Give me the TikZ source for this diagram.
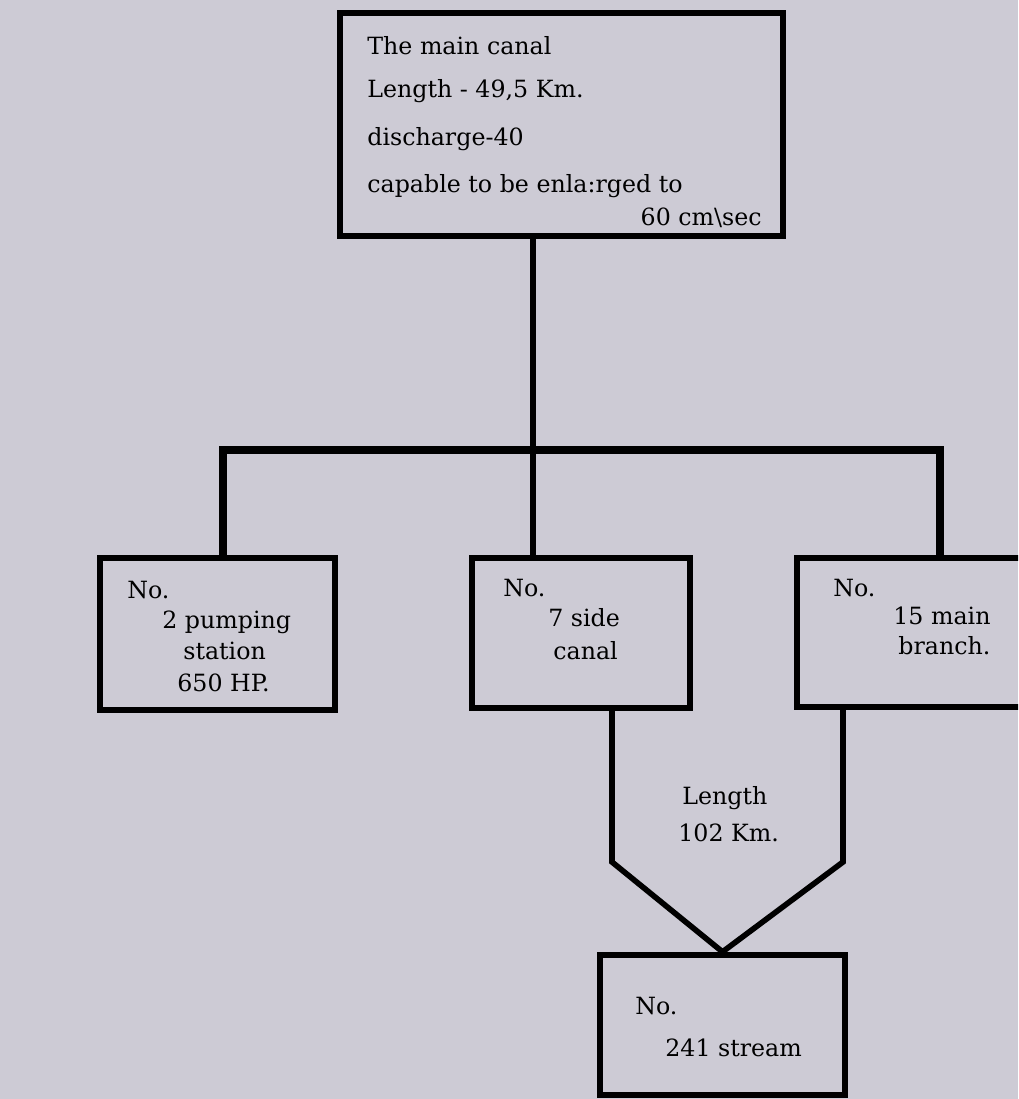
\documentclass[tikz,border=0pt]{standalone}
\usepackage{fontspec}
\setmainfont{DejaVu Serif}
\usepackage{tikz}
\definecolor{paper}{RGB}{205,203,213}

\begin{document}
\begin{tikzpicture}[x=0.02cm, y=-0.02cm,
    box/.style={draw, line width=3.6pt, rectangle, inner sep=0pt},
    link/.style={line width=3.2pt, line join=miter},
    txt/.style={anchor=base west, inner sep=0pt, font=\fontsize{13.5}{16}\selectfont}]
    \clip (0,0) rectangle (1018,1099);
    \fill[paper] (0,0) rectangle (1018,1099);
    \node[box, minimum width=8.86cm, minimum height=4.46cm] (main) at (561.5,124.5) {};
    \node[box, minimum width=4.7cm, minimum height=3.04cm] (pump) at (217.5,634) {};
    \node[box, minimum width=4.36cm, minimum height=3cm] (side) at (581,633) {};
    \node[box, minimum width=4.66cm, minimum height=2.98cm] (branch) at (913.5,632.5) {};
    \node[box, minimum width=4.9cm, minimum height=2.8cm] (stream) at (722.5,1025) {};
    \node[txt] (m1) at (367,54) {The main canal};
    \node[txt] (m2) at (367,97) {Length - 49,5 Km.};
    \node[txt] (m3) at (367,145) {discharge-40};
    \node[txt] (m4) at (367,192) {capable to be enla:rged to};
    \node[txt, anchor=base east] (m5) at (762,225) {60 cm\textbackslash sec};
    \node[txt] (p1) at (127,598) {No.};
    \node[txt] (p2) at (162,628) {2 pumping};
    \node[txt] (p3) at (183,659) {station};
    \node[txt] (p4) at (177,691) {650 HP.};
    \node[txt] (s1) at (503,596) {No.};
    \node[txt] (s2) at (548,626) {7 side};
    \node[txt] (s3) at (553,659) {canal};
    \node[txt] (b1) at (833,596) {No.};
    \node[txt] (b2) at (893,624) {15 main};
    \node[txt] (b3) at (898,654) {branch.};
    \node[txt] (l1) at (682,804) {Length};
    \node[txt] (l2) at (678,841) {102 Km.};
    \node[txt] (r1) at (635,1014) {No.};
    \node[txt] (r2) at (665,1056) {241 stream};
    \coordinate (trunk) at (533,450);
    \coordinate (busL) at (223,450);
    \coordinate (busR) at (940,450);
    \coordinate (bendL) at (612,862);
    \coordinate (bendR) at (843,862);
    \draw[link] (main.south -| trunk) -- (side.north -| trunk);
    \draw[link, line width=4pt] (pump.north -| busL) -- (busL) -- (busR) -- (branch.north -| busR);
    \draw[link] (side.south -| bendL) -- (bendL) -- (stream.north) -- (bendR) -- (branch.south -| bendR);
\end{tikzpicture}
\end{document}
